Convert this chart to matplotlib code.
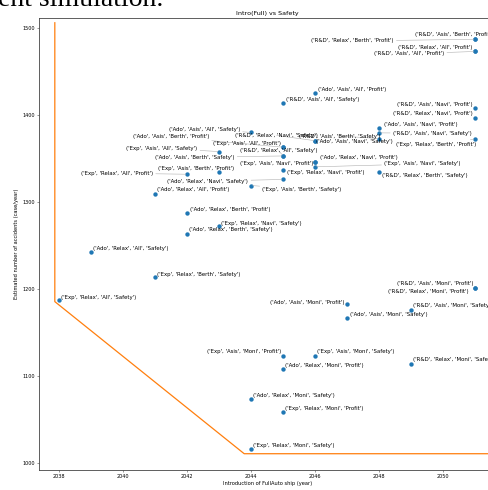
import matplotlib
matplotlib.use('Agg')
import matplotlib.pyplot as plt

# scenarios (org, plan, scope, objective)
scenarios = [
    ('R&D', 'Asis', 'Berth', 'Profit'),
    ('R&D', 'Relax', 'Berth', 'Profit'),
    ('R&D', 'Relax', 'All', 'Profit'),
    ('R&D', 'Asis', 'All', 'Profit'),
    ('Ado', 'Asis', 'All', 'Profit'),
    ('R&D', 'Asis', 'All', 'Safety'),
    ('R&D', 'Asis', 'Navi', 'Profit'),
    ('R&D', 'Relax', 'Navi', 'Profit'),
    ('Ado', 'Asis', 'Navi', 'Profit'),
    ('R&D', 'Asis', 'Navi', 'Safety'),
    ('R&D', 'Asis', 'Berth', 'Safety'),
    ('Ado', 'Asis', 'Navi', 'Safety'),
    ('R&D', 'Relax', 'Navi', 'Safety'),
    ('Exp', 'Relax', 'Berth', 'Profit'),
    ('Ado', 'Asis', 'All', 'Safety'),
    ('Ado', 'Asis', 'Berth', 'Profit'),
    ('Exp', 'Asis', 'All', 'Profit'),
    ('Exp', 'Asis', 'All', 'Safety'),
    ('R&D', 'Relax', 'All', 'Safety'),
    ('Ado', 'Asis', 'Berth', 'Safety'),
    ('Exp', 'Asis', 'Navi', 'Profit'),
    ('Ado', 'Relax', 'Navi', 'Profit'),
    ('Exp', 'Asis', 'Navi', 'Safety'),
    ('Exp', 'Relax', 'Navi', 'Profit'),
    ('R&D', 'Relax', 'Berth', 'Safety'),
    ('Exp', 'Asis', 'Berth', 'Profit'),
    ('Exp', 'Relax', 'All', 'Profit'),
    ('Ado', 'Relax', 'Navi', 'Safety'),
    ('Exp', 'Asis', 'Berth', 'Safety'),
    ('Ado', 'Relax', 'All', 'Profit'),
    ('Ado', 'Relax', 'Berth', 'Profit'),
    ('Exp', 'Relax', 'Navi', 'Safety'),
    ('Ado', 'Relax', 'Berth', 'Safety'),
    ('Ado', 'Relax', 'All', 'Safety'),
    ('Exp', 'Relax', 'Berth', 'Safety'),
    ('Exp', 'Relax', 'All', 'Safety'),
    ('R&D', 'Asis', 'Moni', 'Profit'),
    ('R&D', 'Relax', 'Moni', 'Profit'),
    ('Ado', 'Asis', 'Moni', 'Profit'),
    ('R&D', 'Asis', 'Moni', 'Safety'),
    ('Ado', 'Asis', 'Moni', 'Safety'),
    ('Exp', 'Asis', 'Moni', 'Profit'),
    ('Exp', 'Asis', 'Moni', 'Safety'),
    ('Ado', 'Relax', 'Moni', 'Profit'),
    ('R&D', 'Relax', 'Moni', 'Safety'),
    ('Ado', 'Relax', 'Moni', 'Safety'),
    ('Exp', 'Relax', 'Moni', 'Profit'),
    ('Exp', 'Relax', 'Moni', 'Safety'),
]

intro_year = [2051, 2051, 2051, 2051, 2046, 2045, 2051, 2051, 2048, 2048,
              2048, 2046, 2046, 2051, 2044, 2045, 2045, 2043, 2045, 2045,
              2046, 2046, 2046, 2045, 2048, 2043, 2042, 2045, 2044, 2041,
              2042, 2043, 2042, 2039, 2041, 2038, 2051, 2051, 2047, 2049,
              2047, 2045, 2046, 2045, 2049, 2044, 2045, 2044]

accidents = [1487, 1487, 1473, 1473, 1425, 1413.5, 1408, 1397, 1385, 1379.5,
             1373, 1370.5, 1370.5, 1372.5, 1380, 1363, 1363, 1358, 1353, 1353,
             1346.5, 1346.5, 1340.5, 1336.5, 1334.5, 1334.5, 1332, 1326, 1319, 1309,
             1287, 1272, 1263.5, 1242.5, 1213.5, 1187, 1201, 1201, 1183.5, 1176,
             1166.5, 1123.5, 1123.5, 1108, 1114, 1073.5, 1058.5, 1016]

# orange reference line
front_year = [2037.86, 2037.86, 2043.78, 2052.5]
front_acc = [1506, 1185.7, 1011, 1011]

# label placement in pixels from the point: (dx, dy, ha, arrow)
label_pos = [
    (-60, 4.3, 'left', False), (-164, -1.7, 'left', True),
    (-2.3, 4.4, 'right', False), (-31, -2.3, 'right', True),
    (3, 3.3, 'left', False), (2.7, 3.3, 'left', False),
    (-2.3, 4, 'right', False), (-2.3, 4.4, 'right', False),
    (4.7, 3.7, 'left', False), (13.7, -0.3, 'left', True),
    (-80, 2.5, 'left', True), (1, -0.3, 'left', False),
    (-80, 5.2, 'left', True), (-79, -6, 'left', True),
    (-82.7, 3.4, 'left', True), (-150.6, 10.3, 'left', True),
    (-2.3, 4, 'right', False), (-22, 3.4, 'right', True),
    (-43.3, 5.2, 'left', True), (-128.3, -1.3, 'left', True),
    (-2, -2.3, 'right', False), (5, 4.2, 'left', False),
    (69, 3, 'left', True), (4.2, -2.5, 'left', False),
    (2.7, -3.6, 'left', False), (-61, 3.3, 'left', False),
    (-34.3, 1, 'right', True), (-115.8, -1.7, 'left', True),
    (11.2, -3.5, 'left', True), (2, 4.3, 'left', False),
    (2.7, 4.3, 'left', False), (2, 3.4, 'left', False),
    (2.2, 4.5, 'left', False), (2, 3.6, 'left', False),
    (2, 3.3, 'left', False), (2.2, 3.4, 'left', False),
    (-1.3, 4.3, 'right', False), (-6.3, -3.4, 'right', False),
    (-2.7, 1.4, 'right', False), (2.3, 4.3, 'left', False),
    (2.3, 4, 'left', False), (-2.3, 4, 'right', False),
    (2, 4, 'left', False), (2.2, 3.3, 'left', False),
    (2.3, 4.7, 'left', False), (2, 4, 'left', False),
    (2, 4, 'left', False), (2, 3.6, 'left', False),
]

fig = plt.figure(figsize=(4.89, 4.90), dpi=100)
ax = fig.add_axes([39.3 / 489, 20 / 490, (495 - 39.3) / 489, (470 - 18.3) / 490])

fig.text(-2 / 489, 1 - 6 / 490, 'ent simulation.', fontsize=20,
         family='Liberation Serif', va='baseline', ha='left')

ax.plot(front_year, front_acc, color='#ff7f0e', lw=0.9, zorder=1)
ax.scatter(intro_year, accidents, s=10, color='#1f77b4', zorder=3, linewidths=0)

for name, xv, yv, (dx, dy, ha, arrow) in zip(scenarios, intro_year, accidents, label_pos):
    props = dict(arrowstyle='-', color='#b0b0b0', lw=0.4, shrinkA=0, shrinkB=1) if arrow else None
    ax.annotate(str(name), (xv, yv), xytext=(dx, dy), textcoords='offset pixels',
                ha=ha, va='center', fontsize=3.9, arrowprops=props, zorder=4)

ax.set_xlim(2037.375, 2051.62)
ax.set_ylim(992.3, 1511.1)
ax.set_xticks([2038, 2040, 2042, 2044, 2046, 2048, 2050])
ax.set_yticks([1000, 1100, 1200, 1300, 1400, 1500])
ax.tick_params(labelsize=3.5, length=1.4, width=0.4, pad=1.4, color='#444444')
for sp in ax.spines.values():
    sp.set_linewidth(0.6)
    sp.set_color('#444444')
ax.set_title('Intro(Full) vs Safety', fontsize=4.6, pad=2.2)
ax.set_xlabel('Introduction of FullAuto ship (year)', fontsize=3.7, labelpad=1.5)
ax.set_ylabel('Estimated number of accidents (case/year)', fontsize=3.7, labelpad=3)

fig.savefig('out.png', dpi=100)
